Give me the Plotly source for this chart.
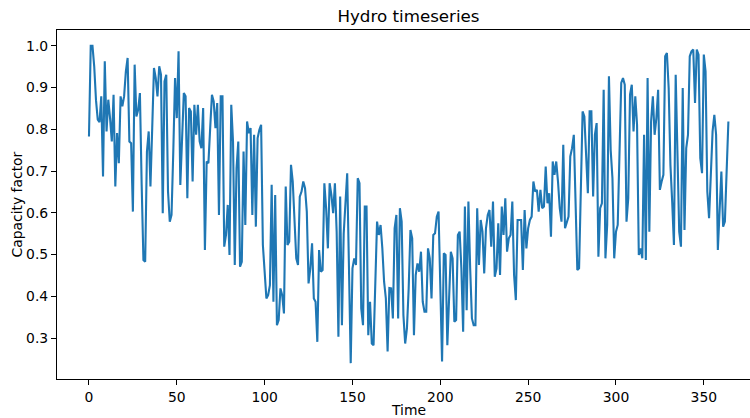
import plotly.graph_objects as go

# Daily hydro capacity factor over one year (day index 0..364)
capacity_factor = [
    0.783, 1.0, 1.0, 0.95, 0.87, 0.823, 0.817, 0.879, 0.687, 0.963,
    0.795, 0.871, 0.827, 0.771, 0.883, 0.663, 0.791, 0.719, 0.879, 0.855,
    0.879, 0.939, 0.971, 0.771, 0.767, 0.603, 0.955, 0.831, 0.847, 0.887,
    0.667, 0.487, 0.483, 0.747, 0.795, 0.663, 0.803, 0.947, 0.923, 0.879,
    0.951, 0.931, 0.599, 0.915, 0.931, 0.651, 0.579, 0.595, 0.747, 0.923,
    0.827, 0.987, 0.667, 0.779, 0.887, 0.879, 0.635, 0.851, 0.843, 0.675,
    0.859, 0.787, 0.859, 0.771, 0.755, 0.851, 0.511, 0.723, 0.719, 0.803,
    0.883, 0.867, 0.803, 0.863, 0.595, 0.879, 0.879, 0.519, 0.547, 0.619,
    0.499, 0.859, 0.771, 0.475, 0.707, 0.771, 0.471, 0.483, 0.747, 0.571,
    0.819, 0.791, 0.803, 0.595, 0.787, 0.567, 0.779, 0.799, 0.811, 0.523,
    0.467, 0.395, 0.403, 0.427, 0.667, 0.387, 0.643, 0.331, 0.343, 0.419,
    0.403, 0.359, 0.663, 0.523, 0.531, 0.715, 0.675, 0.579, 0.491, 0.475,
    0.639, 0.651, 0.675, 0.659, 0.603, 0.431, 0.467, 0.527, 0.395, 0.387,
    0.291, 0.511, 0.459, 0.463, 0.671, 0.611, 0.515, 0.671, 0.643, 0.599,
    0.671, 0.555, 0.303, 0.639, 0.331, 0.55, 0.63, 0.695, 0.47, 0.24,
    0.467, 0.491, 0.475, 0.683, 0.671, 0.371, 0.331, 0.615, 0.615, 0.307,
    0.387, 0.287, 0.283, 0.419, 0.579, 0.547, 0.571, 0.515, 0.435, 0.395,
    0.268, 0.42, 0.419, 0.347, 0.563, 0.595, 0.347, 0.611, 0.579, 0.355,
    0.287, 0.323, 0.419, 0.559, 0.539, 0.307, 0.451, 0.479, 0.459, 0.507,
    0.387, 0.363, 0.363, 0.515, 0.491, 0.395, 0.547, 0.551, 0.591, 0.603,
    0.451, 0.244, 0.503, 0.499, 0.283, 0.419, 0.507, 0.491, 0.339, 0.343,
    0.547, 0.555, 0.467, 0.315, 0.615, 0.367, 0.627, 0.467, 0.347, 0.331,
    0.331, 0.611, 0.475, 0.583, 0.555, 0.455, 0.563, 0.595, 0.607, 0.519,
    0.627, 0.447, 0.467, 0.575, 0.451, 0.615, 0.547, 0.635, 0.507, 0.539,
    0.547, 0.627, 0.451, 0.391, 0.583, 0.583, 0.583, 0.463, 0.607, 0.515,
    0.563, 0.583, 0.591, 0.675, 0.651, 0.655, 0.603, 0.655, 0.611, 0.615,
    0.711, 0.623, 0.647, 0.543, 0.723, 0.691, 0.723, 0.675, 0.611, 0.579,
    0.763, 0.563, 0.579, 0.591, 0.735, 0.755, 0.787, 0.611, 0.463, 0.467,
    0.675, 0.843, 0.831, 0.739, 0.647, 0.843, 0.843, 0.639, 0.787, 0.815,
    0.495, 0.611, 0.623, 0.895, 0.491, 0.571, 0.927, 0.75, 0.683, 0.491,
    0.555, 0.571, 0.763, 0.911, 0.923, 0.907, 0.579, 0.635, 0.883, 0.907,
    0.795, 0.879, 0.811, 0.499, 0.515, 0.491, 0.787, 0.487, 0.923, 0.555,
    0.819, 0.879, 0.787, 0.827, 0.895, 0.655, 0.675, 0.691, 0.975, 0.983,
    0.899, 0.715, 0.627, 0.523, 0.931, 0.747, 0.555, 0.519, 0.899, 0.559,
    0.755, 0.787, 0.975, 0.987, 0.991, 0.863, 0.991, 0.979, 0.731, 0.695,
    0.979, 0.939, 0.651, 0.587, 0.699, 0.795, 0.835, 0.787, 0.511, 0.627,
    0.699, 0.567, 0.579, 0.70, 0.819,
]
time = list(range(len(capacity_factor)))

x_ticks = [0, 50, 100, 150, 200, 250, 300, 350]
y_ticks = [0.3, 0.4, 0.5, 0.6, 0.7, 0.8, 0.9, 1.0]
y_tick_labels = ["0.3", "0.4", "0.5", "0.6", "0.7", "0.8", "0.9", "1.0"]

W, H = 750, 418
M_LEFT, M_RIGHT, M_TOP, M_BOTTOM = 57, 0, 30, 39
plot_w = W - M_LEFT - M_RIGHT
plot_h = H - M_TOP - M_BOTTOM
axes_center_px = 408.5  # centre of the full axes box (it runs past the right edge)

FONT = "DejaVu Sans"
TICK_SIZE = 13.9
LINE_COLOR = "#1f77b4"

fig = go.Figure(
    go.Scatter(
        x=time,
        y=capacity_factor,
        mode="lines",
        line=dict(color=LINE_COLOR, width=2.1),
        hoverinfo="skip",
    )
)

axis_common = dict(
    showgrid=False,
    zeroline=False,
    showline=True,
    linecolor="black",
    linewidth=1.1,
    ticks="outside",
    ticklen=5,
    tickwidth=1.1,
    tickcolor="black",
    tickfont=dict(family=FONT, size=TICK_SIZE, color="black"),
)

fig.update_layout(
    width=W,
    height=H,
    autosize=False,
    margin=dict(l=M_LEFT, r=M_RIGHT, t=M_TOP, b=M_BOTTOM, pad=0),
    paper_bgcolor="white",
    plot_bgcolor="white",
    showlegend=False,
    font=dict(family=FONT, size=TICK_SIZE, color="black"),
    title=dict(
        text="Hydro timeseries",
        font=dict(family=FONT, size=16.7, color="black"),
        xref="container",
        yref="container",
        x=axes_center_px / W,
        y=1 - 16.5 / H,
        xanchor="center",
        yanchor="middle",
    ),
    xaxis=dict(
        range=[-18.2, 376.3],
        tickmode="array",
        tickvals=x_ticks,
        ticktext=[str(t) for t in x_ticks],
        mirror=True,
        **axis_common,
    ),
    yaxis=dict(
        range=[0.202, 1.038],
        tickmode="array",
        tickvals=y_ticks,
        ticktext=y_tick_labels,
        **axis_common,
    ),
    annotations=[
        dict(
            text="Time",
            xref="paper",
            yref="paper",
            x=(axes_center_px - M_LEFT) / plot_w,
            y=-(410 - (M_TOP + plot_h)) / plot_h,
            xanchor="center",
            yanchor="middle",
            showarrow=False,
            font=dict(family=FONT, size=TICK_SIZE, color="black"),
        ),
        dict(
            text="Capacity factor",
            xref="paper",
            yref="paper",
            x=(16 - M_LEFT) / plot_w,
            y=0.5,
            xanchor="center",
            yanchor="middle",
            textangle=-90,
            showarrow=False,
            font=dict(family=FONT, size=TICK_SIZE, color="black"),
        ),
    ],
)

fig.write_html("out.html")
